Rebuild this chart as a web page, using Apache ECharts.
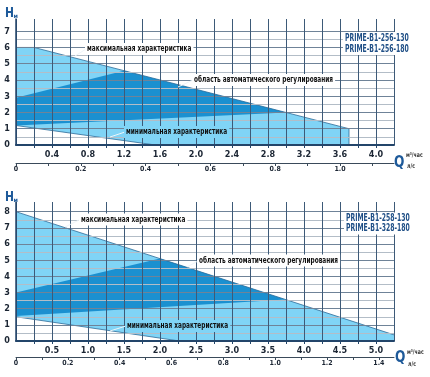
<!DOCTYPE html>
<html><head><meta charset="utf-8">
<script src="https://cdn.jsdelivr.net/npm/echarts@6/dist/echarts.min.js"></script>
<style>html,body{margin:0;padding:0;background:#fff}#c{width:430px;height:377px}</style>
</head><body><div id="c"></div>
<script>
// ---------- Top chart: PRIME-B1-256 ----------
const topModels = ['PRIME-B1-256-130', 'PRIME-B1-256-180'];
const topMaxArea = [[0, 6.0], [0.2, 6.0], [3.7, 1.0], [3.7, 0], [1.55, 0], [0, 1.2]];
const topAutoArea = [[0, 2.9], [1.2, 4.57], [3.0, 2.0], [0, 1.2]];
const topMaxCurve = [[0, 6.0], [0.2, 6.0], [3.7, 1.0], [3.7, 0]];
const topMinCurve = [[0, 1.2], [1.55, 0]];
const topQmax = 4.2, topHmax = 7.75;

// ---------- Bottom chart: PRIME-B1-258 / 328 ----------
const botModels = ['PRIME-B1-258-130', 'PRIME-B1-328-180'];
const botMaxArea = [[0, 8.0], [5.25, 0.38], [5.25, 0], [2.27, 0], [0, 1.5]];
const botAutoArea = [[0, 3.0], [2.0, 5.1], [3.74, 2.57], [0, 1.55]];
const botMaxCurve = [[0, 8.0], [5.25, 0.38]];
const botMinCurve = [[0, 1.5], [2.27, 0]];
const botQmax = 5.25, botHmax = 8.6;

const annTexts = ['максимальная характеристика', 'область автоматического регулирования', 'минимальная характеристика'];
const unitQ = 'Q', unitQ1 = 'м³/час', unitQ2 = 'л/с', unitH = 'H', unitHm = 'м';

const LIGHT = '#80d4f6', DARK = '#1b90d0', NAVY = '#23456a', GRID_V = '#3d5a78', GRID_H1 = '#6f8398', GRID_H2 = '#b3bdc7';
const FONT = "'DejaVu Sans Condensed','Liberation Sans Narrow',sans-serif";
const TXT = '#1b2533', BLUE = '#1e5a9a';

function poly(pts, xi, yi, fill, stroke) {
  return {
    type: 'custom', xAxisIndex: xi, yAxisIndex: yi, data: [0], silent: true, z: 1,
    renderItem: (p, api) => ({
      type: 'polygon',
      shape: { points: pts.map(q => api.coord(q)) },
      style: { fill: fill, stroke: stroke || null, lineWidth: stroke ? 0.8 : 0 }
    })
  };
}
function line(pts, xi, yi) {
  return {
    type: 'custom', xAxisIndex: xi, yAxisIndex: yi, data: [0], silent: true, z: 2,
    renderItem: (p, api) => ({
      type: 'polyline',
      shape: { points: pts.map(q => api.coord(q)) },
      style: { fill: null, stroke: '#2d6b98', lineWidth: 0.8 }
    })
  };
}
function hColors(max) {
  const arr = [];
  const n = Math.floor(max / 0.5 + 1e-9);
  for (let i = 0; i <= n; i++) arr.push(i % 2 === 0 ? GRID_H1 : GRID_H2);
  arr[n] = 'transparent';
  arr.push('transparent');
  return arr;
}
function isMult(v, step) { const r = v / step; return Math.abs(r - Math.round(r)) < 1e-6; }

function mAxis(grid, max, interval, labelStep) {
  return {
    type: 'value', gridIndex: grid, min: 0, max: max, interval: interval, z: 5,
    axisLine: { show: true, onZero: false, lineStyle: { color: NAVY, width: 2 } },
    axisTick: { show: true, length: 3, lineStyle: { color: NAVY, width: 1 } },
    axisLabel: { fontFamily: FONT, fontWeight: 'bold', fontSize: 9, color: TXT, margin: 5,
      showMinLabel: false, showMaxLabel: false,
      formatter: v => (v > 0 && isMult(v, labelStep)) ? v.toFixed(1) : '' },
    splitLine: { show: true, showMinLine: true, showMaxLine: true, lineStyle: { color: GRID_V, width: 1 } }
  };
}
function lAxis(grid, max, offset) {
  return {
    type: 'value', gridIndex: grid, position: 'bottom', offset: offset, min: 0, max: max, interval: 0.1, z: 5,
    axisLine: { show: true, onZero: false, lineStyle: { color: '#3a4a5a', width: 1 } },
    axisTick: { show: true, length: 3, lineStyle: { color: '#3a4a5a' } },
    axisLabel: { fontFamily: FONT, fontWeight: 'bold', fontSize: 7, color: TXT, margin: 3,
      showMaxLabel: false,
      formatter: v => v === 0 ? '0' : (isMult(v, 0.2) ? v.toFixed(1) : '') },
    splitLine: { show: false }
  };
}
function hAxis(grid, max) {
  return {
    type: 'value', gridIndex: grid, min: 0, max: max, interval: 0.5, z: 5,
    axisLine: { show: true, onZero: false, lineStyle: { color: NAVY, width: 1.5 } },
    axisTick: { show: false },
    axisLabel: { fontFamily: FONT, fontWeight: 'bold', fontSize: 9, color: TXT, margin: 6,
      showMaxLabel: false,
      formatter: v => isMult(v, 1) ? String(Math.round(v)) : '' },
    splitLine: { show: true, showMaxLine: false, lineStyle: { color: hColors(max), width: 1 } }
  };
}

function tx(x, y, s, size, color, bg, sx) {
  return { type: 'text', x: x, y: y, z: 100, silent: true, scaleX: sx || 1,
    style: { text: s, fontFamily: FONT, fontWeight: 'bold', fontSize: size, fill: color,
      verticalAlign: 'middle', backgroundColor: bg || null, padding: bg ? [1, 3] : 0 } };
}
function seg(x1, y1, x2, y2) {
  return { type: 'line', z: 99, silent: true, shape: { x1, y1, x2, y2 }, style: { stroke: '#eef5f9', lineWidth: 1 } };
}
const AS = 0.68, LS = 0.68;

const option = {
  animation: false,
  backgroundColor: '#fff',
  grid: [
    { left: 16, right: 36, top: 19, height: 126 },
    { left: 16, right: 36, top: 202, height: 139 }
  ],
  xAxis: [mAxis(0, topQmax, 0.2, 0.4), lAxis(0, topQmax / 3.6, 18), mAxis(1, botQmax, 0.25, 0.5), lAxis(1, botQmax / 3.6, 16)],
  yAxis: [hAxis(0, topHmax), hAxis(1, botHmax)],
  series: [
    poly(topMaxArea, 0, 0, LIGHT), poly(topAutoArea, 0, 0, DARK),
    line(topMaxCurve, 0, 0), line(topMinCurve, 0, 0),
    poly(botMaxArea, 2, 1, LIGHT), poly(botAutoArea, 2, 1, DARK),
    line(botMaxCurve, 2, 1), line(botMinCurve, 2, 1)
  ],
  graphic: [
    // axis titles top
    tx(5, 13, unitH, 14, BLUE, null, 0.85), tx(13.5, 16, unitHm, 6, BLUE),
    tx(394, 163, unitQ, 16, BLUE, null, 0.85), tx(406, 155, unitQ1, 6.5, '#333', null, 0.8), tx(407, 166, unitQ2, 6.5, '#333', null, 0.8),
    // axis titles bottom
    tx(5, 197, unitH, 14, BLUE, null, 0.85), tx(13.5, 200, unitHm, 6, BLUE),
    tx(395, 358, unitQ, 16, BLUE, null, 0.85), tx(407, 352, unitQ1, 6.5, '#333', null, 0.8), tx(408, 364, unitQ2, 6.5, '#333', null, 0.8),
    // legends
    tx(343, 38, topModels[0], 10, '#1f4f86', '#fff', LS), tx(343, 49, topModels[1], 10, '#1f4f86', '#fff', LS),
    tx(344, 218.5, botModels[0], 10, '#1f4f86', '#fff', LS), tx(344, 228.5, botModels[1], 10, '#1f4f86', '#fff', LS),
    // annotations top
    seg(75, 56, 86, 49), tx(85, 49, annTexts[0], 9.5, '#111', '#fff', AS),
    seg(178, 87, 193, 80), tx(192, 80, annTexts[1], 9.5, '#111', '#fff', AS),
    seg(110, 137, 125, 132), tx(124, 132, annTexts[2], 9.5, '#111', LIGHT, AS),
    // annotations bottom
    seg(65, 227, 80, 219.5), tx(79, 219.5, annTexts[0], 9.5, '#111', '#fff', AS),
    seg(187, 267, 198, 261), tx(197, 260.5, annTexts[1], 9.5, '#111', '#fff', AS),
    seg(110, 331, 126, 326), tx(125, 326, annTexts[2], 9.5, '#111', LIGHT, AS)
  ]
};
const chart = echarts.init(document.getElementById('c'), null, { renderer: 'canvas' });
chart.setOption(option);
</script>
</body></html>
